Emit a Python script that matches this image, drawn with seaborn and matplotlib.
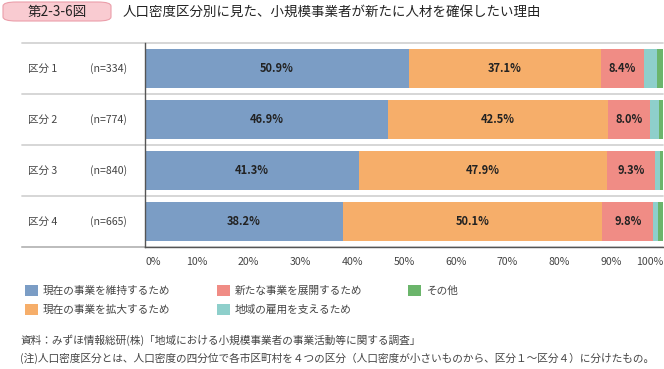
import numpy as np
import pandas as pd
import matplotlib
matplotlib.use("Agg")
import matplotlib.pyplot as plt
from matplotlib.patches import Patch, FancyBboxPatch
import seaborn as sns

# --- data
groups = ["区分 1", "区分 2", "区分 3", "区分 4"]
sizes = ["(n=334)", "(n=774)", "(n=840)", "(n=665)"]
reasons = ["現在の事業を維持するため", "現在の事業を拡大するため", "新たな事業を展開するため",
           "地域の雇用を支えるため", "その他"]
keep = [50.9, 46.9, 41.3, 38.2]
expand = [37.1, 42.5, 47.9, 50.1]
new_biz = [8.4, 8.0, 9.3, 9.8]
local_jobs = [2.4, 1.8, 0.9, 1.0]
other = [1.2, 0.8, 0.6, 0.9]
colors = ["#7b9dc5", "#f6ae6a", "#f08c85", "#8ecfcb", "#6bb56b"]

values = np.array([keep, expand, new_biz, local_jobs, other])
cum = values.cumsum(axis=0)

rows = []
for i, r in enumerate(reasons):
    for j, g in enumerate(groups):
        rows.append({"区分": g, "理由": r, "値": values[i, j], "累積": cum[i, j]})
df = pd.DataFrame(rows)

sns.set_style("white")
plt.rcParams["font.family"] = ["Noto Sans CJK JP", "DejaVu Sans"]

fig = plt.figure(figsize=(6.64, 3.69), dpi=100)
ax = fig.add_axes([145 / 664, 1 - 247 / 369, 518 / 664, (247 - 43) / 369])

# stacked bars: draw cumulative totals back to front
for r, c in reversed(list(zip(reasons, colors))):
    sns.barplot(data=df[df["理由"] == r], x="累積", y="区分", order=groups,
                color=c, saturation=1, width=0.75, orient="h", ax=ax,
                linewidth=0)

# value labels for the first three series
for i in range(3):
    for j in range(len(groups)):
        ax.text(cum[i, j] - values[i, j] / 2, j, f"{values[i, j]:.1f}%",
                ha="center", va="center", fontsize=8, fontweight="bold",
                color="#222222")

ax.set_xlim(0, 100)
ax.set_ylim(len(groups) - 0.5, -0.5)
ax.set_xlabel("")
ax.set_ylabel("")
ax.set_yticks([])
ax.set_xticks(np.arange(0, 101, 10))
ax.set_xticklabels([f"{t}%" for t in range(0, 101, 10)], fontsize=7.6, color="#444444")
lbls = ax.get_xticklabels()
lbls[0].set_ha("left")
lbls[-1].set_ha("right")
ax.tick_params(axis="x", length=5, width=1, color="#444444", pad=2, direction="out")

for s in ["top", "right"]:
    ax.spines[s].set_visible(False)
ax.spines["left"].set_color("#555555")
ax.spines["left"].set_linewidth(1)
ax.spines["bottom"].set_color("#555555")
ax.spines["bottom"].set_linewidth(1)

# row separators reaching into the label column
tr = ax.get_yaxis_transform()
x0 = (22 - 145) / 518
for k in range(len(groups) + 1):
    y = k - 0.5
    ax.plot([x0, 1.0], [y, y], transform=tr, color="#d3d3d3", lw=1.3,
            clip_on=False, zorder=0.5)
ax.plot([x0, 0], [len(groups) - 0.5] * 2, transform=tr, color="#bbbbbb",
        lw=1.3, clip_on=False)

for j, (g, n) in enumerate(zip(groups, sizes)):
    ax.text((28 - 145) / 518, j, g, transform=tr, ha="left", va="center",
            fontsize=7.6, color="#444444")
    ax.text((90 - 145) / 518, j, n, transform=tr, ha="left", va="center",
            fontsize=7.6, color="#444444")

# title badge
badge = FancyBboxPatch((3 / 664, 1 - 21 / 369), 108 / 664, 19 / 369,
                       boxstyle="round,pad=0,rounding_size=0.02",
                       transform=fig.transFigure, facecolor="#f9cbd1",
                       edgecolor="#eb9eaa", linewidth=0.8, mutation_aspect=0.55)
fig.patches.append(badge)
fig.text(57 / 664, 1 - 12 / 369, "第2-3-6図", ha="center", va="center",
         fontsize=9.8, color="#222222")
fig.text(123 / 664, 1 - 12 / 369, "人口密度区分別に見た、小規模事業者が新たに人材を確保したい理由",
         ha="left", va="center", fontsize=9.7, color="#222222")

# legend
handles = [Patch(facecolor=c, edgecolor="none") for c in colors]
fig.legend(handles, reasons, loc="upper left", bbox_to_anchor=(25 / 664, 1 - 285 / 369),
           ncol=3, frameon=False, fontsize=7.7, handlelength=1.2, handleheight=1.2,
           handletextpad=0.5, columnspacing=4.3, labelspacing=0.7,
           labelcolor="#444444", borderpad=0, borderaxespad=0)

fig.text(20 / 664, 1 - 340 / 369, "資料：みずほ情報総研(株)「地域における小規模事業者の事業活動等に関する調査」",
         ha="left", va="center", fontsize=7.7, color="#444444")
fig.text(20 / 664, 1 - 358 / 369,
         "(注)人口密度区分とは、人口密度の四分位で各市区町村を４つの区分（人口密度が小さいものから、区分１～区分４）に分けたもの。",
         ha="left", va="center", fontsize=7.7, color="#444444")

fig.savefig("out.png", dpi=100)
